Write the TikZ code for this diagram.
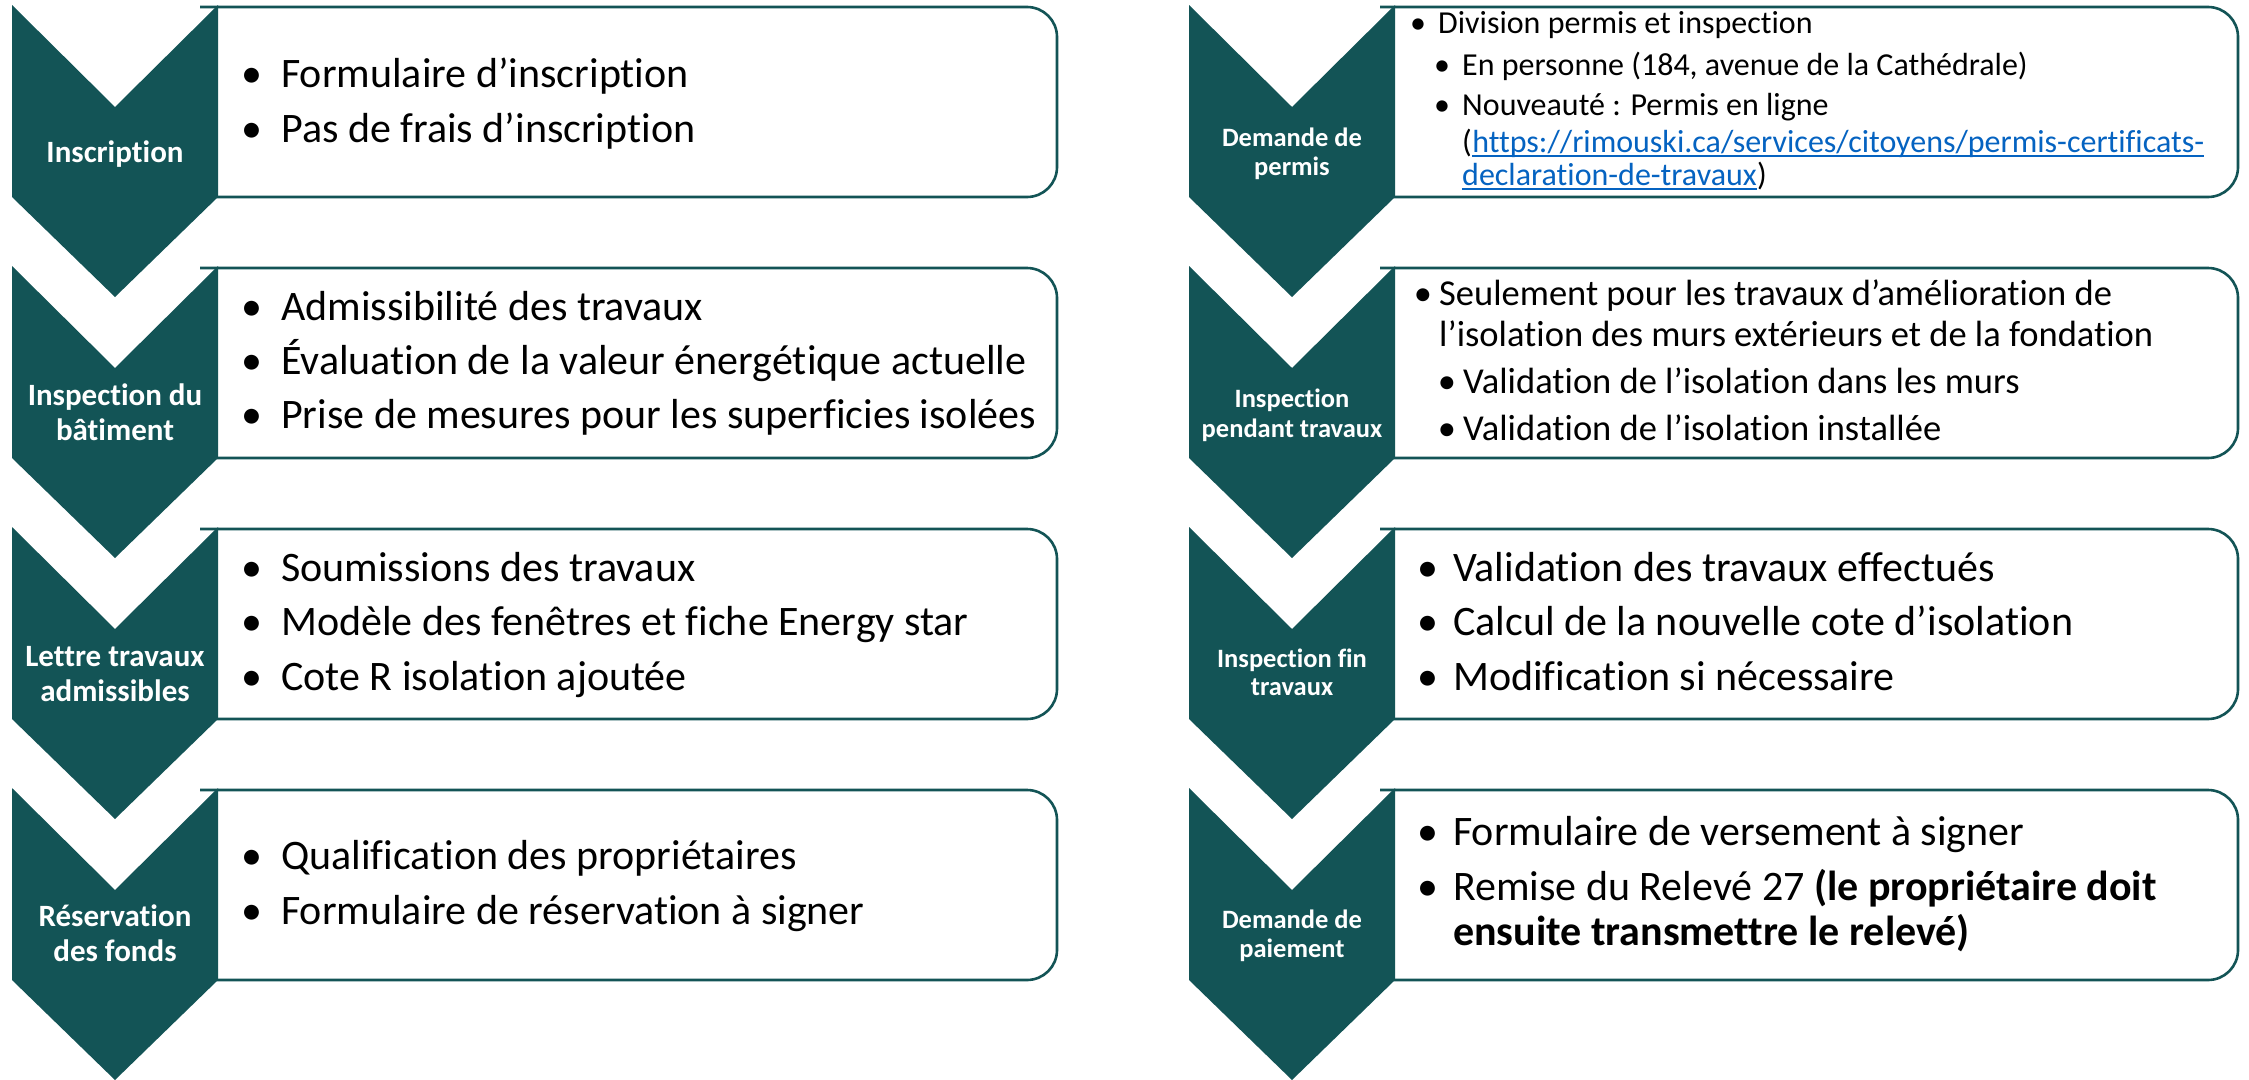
\documentclass[tikz,border=0pt]{standalone}
\usepackage{fontspec}
\setmainfont{Carlito}[Ligatures=NoCommon]
\definecolor{tealA}{RGB}{19,84,86}
\definecolor{linkblue}{RGB}{5,99,193}
\newcommand\mychev[2]{\fill[chev] (#1,#2) -- ++(103,102) -- ++(103,-102) -- ++(0,192) -- ++(-103,100) -- ++(-103,-100) -- cycle;}
\newcommand\mybox[3]{\draw[boxst] (#1,#2) -- (#3,#2) -- (#3,#2+190) -- (#1,#2+190);}
\begin{document}
\begin{tikzpicture}[x=1pt,y=-1pt,
  chev/.style={fill=tealA,draw=none},
  boxst/.style={draw=tealA,line width=2.6pt,rounded corners=30pt},
  lab/.style={text=white,anchor=base,inner sep=0pt,font=\fontsize{31}{37}\selectfont\bfseries},
  labr/.style={text=white,anchor=base,inner sep=0pt,font=\fontsize{26.5}{32}\selectfont\bfseries},
  txt/.style={anchor=base west,inner sep=0pt,font=\fontsize{42}{50}\selectfont},
  bul/.style={anchor=base,inner sep=0pt,font=\fontsize{42}{50}\selectfont},
  txtS/.style={anchor=base west,inner sep=0pt,font=\fontsize{32}{38}\selectfont},
  bulS/.style={anchor=base,inner sep=0pt,font=\fontsize{32}{38}\selectfont},
  txtM/.style={anchor=base west,inner sep=0pt,font=\fontsize{36.5}{43}\selectfont},
  bulM/.style={anchor=base,inner sep=0pt,font=\fontsize{36.5}{43}\selectfont},
  lnk/.style={txtS,text=linkblue},
  ulin/.style={draw=linkblue,line width=2pt}
]
\useasboundingbox[fill=white] (0,0) rectangle (2249,1079);
% boxes
\mybox{200}{7}{1057}
\mybox{200}{268}{1057}
\mybox{200}{529}{1057}
\mybox{200}{790}{1057}
\mybox{1380}{7}{2238}
\mybox{1380}{268}{2238}
\mybox{1380}{529}{2238}
\mybox{1380}{790}{2238}
% chevrons
\mychev{12}{5}
\mychev{12}{266}
\mychev{12}{527}
\mychev{12}{788}
\mychev{1189}{5}
\mychev{1189}{266}
\mychev{1189}{527}
\mychev{1189}{788}
% left labels
\node[lab] (la1) at (115,162) {Inscription};
\node[lab] (la2a) at (115,405) {Inspection du};
\node[lab] (la2b) at (115,440) {bâtiment};
\node[lab] (la3a) at (115,666) {Lettre travaux};
\node[lab] (la3b) at (115,701) {admissibles};
\node[lab] (la4a) at (115,926) {Réservation};
\node[lab] (la4b) at (115,961) {des fonds};
% right labels
\node[labr] (ra1a) at (1292,146) {Demande de};
\node[labr] (ra1b) at (1292,175) {permis};
\node[labr] (ra2a) at (1292,407) {Inspection};
\node[labr] (ra2b) at (1292,437) {pendant travaux};
\node[labr] (ra3a) at (1292,667) {Inspection fin};
\node[labr] (ra3b) at (1292,695) {travaux};
\node[labr] (ra4a) at (1292,928) {Demande de};
\node[labr] (ra4b) at (1292,957) {paiement};
% left texts
\node[bul] (b11) at (252,87) {•};
\node[txt] (t11) at (281,87) {Formulaire d’inscription};
\node[bul] (b12) at (252,142) {•};
\node[txt] (t12) at (281,142) {Pas de frais d’inscription};
\node[bul] (b21) at (252,320) {•};
\node[txt] (t21) at (281,320) {Admissibilité des travaux};
\node[bul] (b22) at (252,374) {•};
\node[txt] (t22) at (281,374) {Évaluation de la valeur énergétique actuelle};
\node[bul] (b23) at (252,428) {•};
\node[txt] (t23) at (281,428) {Prise de mesures pour les superficies isolées};
\node[bul] (b31) at (252,581) {•};
\node[txt] (t31) at (281,581) {Soumissions des travaux};
\node[bul] (b32) at (252,635) {•};
\node[txt] (t32) at (281,635) {Modèle des fenêtres et fiche Energy star};
\node[bul] (b33) at (252,690) {•};
\node[txt] (t33) at (281,690) {Cote R isolation ajoutée};
\node[bul] (b41) at (252,869) {•};
\node[txt] (t41) at (281,869) {Qualification des propriétaires};
\node[bul] (b42) at (252,924) {•};
\node[txt] (t42) at (281,924) {Formulaire de réservation à signer};
% right box 1
\node[bulS] (c11) at (1418,33) {•};
\node[txtS] (u11) at (1438,33) {Division permis et inspection};
\node[bulS] (c12) at (1442,75) {•};
\node[txtS] (u12) at (1462,75) {En personne (184, avenue de la Cathédrale)};
\node[bulS] (c13) at (1442,115) {•};
\node[txtS] (u13) at (1462,115) {Nouveauté~: Permis en ligne};
\node[txtS] (p1) at (1462,152) {(};
\node[lnk] (lk1) at (p1.base east) {https://rimouski.ca/services/citoyens/permis-certificats-};
\node[lnk] (lk2) at (1462,185) {declaration-de-travaux};
\node[txtS] (p2) at (lk2.base east) {)};
\draw[ulin] ([yshift=-4pt]lk1.base west) -- ([yshift=-4pt]lk1.base east);
\draw[ulin] ([yshift=-4pt]lk2.base west) -- ([yshift=-4pt]lk2.base east);
% right box 2
\node[bulM] (c21) at (1423,305) {•};
\node[txtM] (u21) at (1439,305) {Seulement pour les travaux d’amélioration de};
\node[txtM] (u21b) at (1439,346) {l’isolation des murs extérieurs et de la fondation};
\node[bulM] (c22) at (1447,393) {•};
\node[txtM] (u22) at (1463,393) {Validation de l’isolation dans les murs};
\node[bulM] (c23) at (1447,440) {•};
\node[txtM] (u23) at (1463,440) {Validation de l’isolation installée};
% right box 3
\node[bul] (c31) at (1428,581) {•};
\node[txt] (u31) at (1453,581) {Validation des travaux effectués};
\node[bul] (c32) at (1428,635) {•};
\node[txt] (u32) at (1453,635) {Calcul de la nouvelle cote d’isolation};
\node[bul] (c33) at (1428,690) {•};
\node[txt] (u33) at (1453,690) {Modification si nécessaire};
% right box 4
\node[bul] (c41) at (1428,845) {•};
\node[txt] (u41) at (1453,845) {Formulaire de versement à signer};
\node[bul] (c42) at (1428,900) {•};
\node[txt] (u42) at (1453,900) {Remise du Relevé 27 \textbf{(le propriétaire doit}};
\node[txt] (u42b) at (1453,945) {\textbf{ensuite transmettre le relevé)}};
\end{tikzpicture}
\end{document}
